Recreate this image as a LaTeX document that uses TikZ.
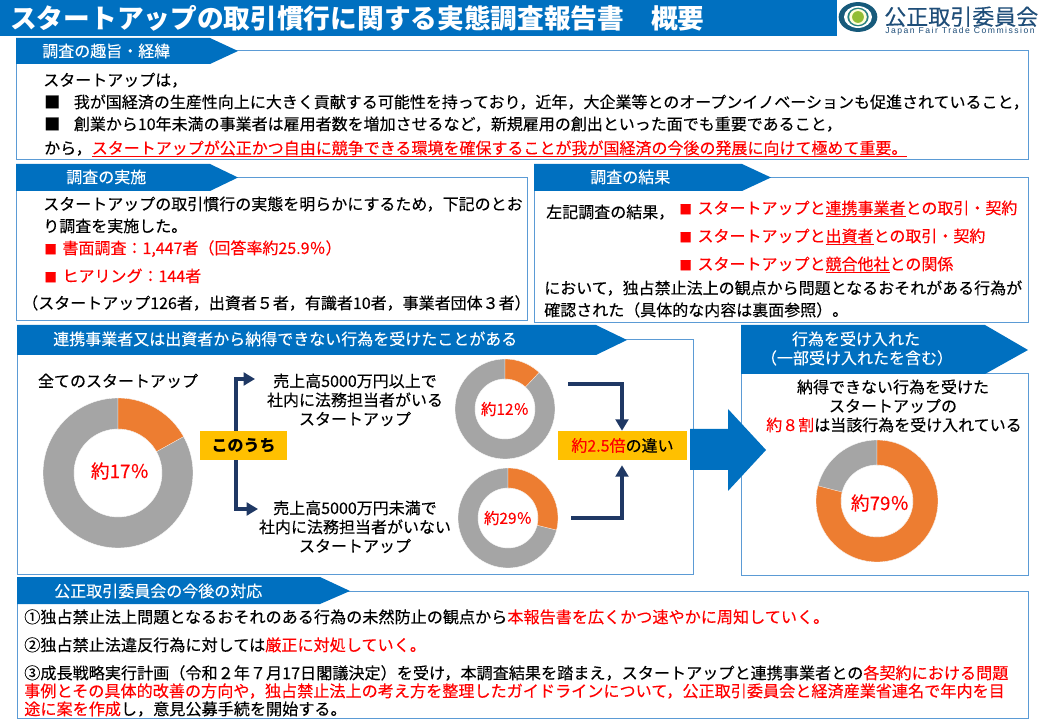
\documentclass[tikz,border=0pt]{standalone}
\usepackage{fontspec}
\setmainfont{Noto Sans CJK JP}[FakeBold=0.2,BoldFeatures={FakeBold=0}]
\newfontfamily\logofont{Liberation Sans}
\usetikzlibrary{arrows.meta}
\definecolor{hblue}{HTML}{0070C0}
\definecolor{bline}{HTML}{5B9BD5}
\definecolor{navy}{HTML}{1F3864}
\definecolor{dorange}{HTML}{ED7D31}
\definecolor{dgray}{HTML}{A5A5A5}
\definecolor{yel}{HTML}{FFC000}
\definecolor{logoblue}{HTML}{1F4E79}
\newcommand{\fsz}[1]{\fontsize{\dimexpr#1pt*3/4\relax}{\dimexpr#1pt*3/4\relax}\selectfont}
\newcommand{\R}[1]{\textcolor{red}{#1}}
\newcommand{\U}[1]{\underline{\smash{#1}}}
\newcommand{\sq}{{\fsz{12.5}■}\hspace{.36em}}
\newcommand{\ringseg}[7]{\fill[#1,draw=white,line width=.25pt] plot[domain=#6:#7,samples=120] ({#2+#4*sin(\x)},{#3-#4*cos(\x)}) -- plot[domain=#7:#6,samples=120] ({#2+#5*sin(\x)},{#3-#5*cos(\x)}) -- cycle;}
\newcommand{\donut}[5]{\ringseg{dgray}{#1}{#2}{#3}{#4}{0}{360}\ringseg{dorange}{#1}{#2}{#3}{#4}{0}{#5}}
\tikzset{
 x=0.75pt,y=-0.75pt,
 panel/.style={draw=bline,line width=.75pt,fill=white},
 head/.style={fill=hblue},
 htxt/.style={text=white,font=\fsz{16},inner sep=0pt,anchor=base west},
 body/.style={font=\fsz{16},inner sep=0pt,anchor=base west},
 lastbody/.style={font=\fsz{16.12},inner sep=0pt,anchor=base west},
 cbody/.style={font=\fsz{16},inner sep=0pt,anchor=base},
 ybox/.style={fill=yel,inner sep=0pt},
 link/.style={draw=navy,line width=3pt},
 tip/.style={-{Triangle[length=8.5pt,width=9.5pt]}},
}
\begin{document}
\begin{tikzpicture}
\useasboundingbox (0,0) rectangle (1040,720);
\fill[white] (0,0) rectangle (1040,720);
% title
\fill[hblue] (0,0) rectangle (837,36);
\node[inner sep=0pt,anchor=base west,text=white,font=\fsz{26.7}\bfseries] (title) at (10,29) {スタートアップの取引慣行に関する実態調査報告書　概要};
% logo
\fill[logoblue!75!teal] (858,17) ellipse[x radius=14.5pt,y radius=11.2pt];
\fill[white] (858,17) ellipse[x radius=10.5pt,y radius=8.2pt];
\fill[teal!70!gray] (858,17) ellipse[x radius=8pt,y radius=7pt];
\fill[white!85!yellow] (858,17) ellipse[x radius=6.6pt,y radius=6pt];
\fill[yellow!60!green!85!black] (858,17) circle[radius=4.4pt];
\node[inner sep=0pt,anchor=base west,text=logoblue,font=\fsz{22}] (logoj) at (884,25) {公正取引委員会};
\node[inner sep=0pt,anchor=base west,text=logoblue,font=\logofont\fsz{8.6}\addfontfeature{LetterSpace=17.5}] (logoe) at (885,33.5) {Japan Fair Trade Commission};
% panels
\draw[panel] (16,51) rectangle (1028,160);
\fill[head] (16,38) -- (210,38) -- (238,51) -- (210,64) -- (16,64) -- cycle;
\node[htxt] (h1) at (42,57) {調査の趣旨・経緯};
\node[body] (a1) at (43,86) {スタートアップは，};
\node[body] (a2) at (44,108) {■\hspace{.85em}我が国経済の生産性向上に大きく貢献する可能性を持っており，近年，大企業等とのオープンイノベーションも促進されていること，};
\node[body] (a3) at (44,130) {■\hspace{.85em}創業から10年未満の事業者は雇用者数を増加させるなど，新規雇用の創出といった面でも重要であること，};
\node[body] (a4) at (44,154) {から，\R{\U{スタートアップが公正かつ自由に競争できる環境を確保することが我が国経済の今後の発展に向けて極めて重要。}}};
\draw[panel] (16,178) rectangle (527,321);
\fill[head] (16,164) -- (210,164) -- (238,177.5) -- (210,191) -- (16,191) -- cycle;
\node[htxt] (h2) at (66,183) {調査の実施};
\node[body] (b1) at (43,210) {スタートアップの取引慣行の実態を明らかにするため，下記のとお};
\node[body] (b2) at (43,232) {り調査を実施した。};
\node[body] (b3) at (44,254) {\R{\sq 書面調査：1,447者（回答率約25.9％）}};
\node[body] (b4) at (44,282) {\R{\sq ヒアリング：144者}};
\node[body] (b5) at (22,309) {（スタートアップ126者，出資者５者，有識者10者，事業者団体３者）};
\draw[panel] (534,178) rectangle (1028,323);
\fill[head] (534,164) -- (742,164) -- (771,177.5) -- (742,191) -- (534,191) -- cycle;
\node[htxt] (h3) at (590,183) {調査の結果};
\node[body] (c0) at (546,218) {左記調査の結果，};
\node[body] (c1) at (679,214) {\R{\sq スタートアップと\U{連携事業者}との取引・契約}};
\node[body] (c2) at (679,242) {\R{\sq スタートアップと\U{出資者}との取引・契約}};
\node[body] (c3) at (679,270) {\R{\sq スタートアップと\U{競合他社}との関係}};
\node[body] (c4) at (544,294) {において，独占禁止法上の観点から問題となるおそれがある行為が};
\node[body] (c5) at (544,316) {確認された（具体的な内容は裏面参照）。};
% section 4
\draw[panel] (17,340) rectangle (693,574);
\fill[head] (17,325) -- (596,325) -- (627,340) -- (596,355) -- (17,355) -- cycle;
\node[htxt] (h4) at (53,345) {連携事業者又は出資者から納得できない行為を受けたことがある};
\node[cbody] (d0) at (118,387) {全てのスタートアップ};
\donut{118}{473}{75}{44}{61}
\node[inner sep=0pt,font=\fsz{18.7},text=red] (p1) at (120,471) {約17％};
\node[ybox,minimum width=65.25pt,minimum height=21.75pt,font=\fsz{16}\bfseries] (kono) at (243.5,445.5) {このうち};
\coordinate (u1) at (255,379);
\coordinate (u2) at (258,509);
\draw[link,tip] (kono.north -| 236,0) |- (u1);
\draw[link,tip] (kono.south -| 236,0) |- (u2);
\node[cbody] (e1) at (355,387) {売上高5000万円以上で};
\node[cbody] (e2) at (355,406) {社内に法務担当者がいる};
\node[cbody] (e3) at (355,425) {スタートアップ};
\node[cbody] (f1) at (355,514) {売上高5000万円未満で};
\node[cbody] (f2) at (355,533) {社内に法務担当者がいない};
\node[cbody] (f3) at (355,552) {スタートアップ};
\donut{505}{409}{50}{30}{43}
\node[inner sep=0pt,font=\fsz{15.4},text=red] (p2) at (505,409) {約12％};
\donut{508}{518}{50}{30}{104}
\node[inner sep=0pt,font=\fsz{15.4},text=red] (p3) at (508,518) {約29％};
\node[ybox,minimum width=96.75pt,minimum height=21.75pt,font=\fsz{16}] (diff) at (622.5,445.5) {\R{約2.5倍}の違い};
\coordinate (g1) at (568,384);
\coordinate (g2) at (571,518);
\draw[link,tip] (g1) -| (diff.north -| 622,0);
\draw[link,tip] (g2) -| ([yshift=-3.75pt]diff.south -| 622,0);
% section 5
\draw[panel] (741,374) rectangle (1028,575);
\fill[head] (741,325) -- (985,325) -- (1028,350) -- (985,374) -- (741,374) -- cycle;
\node[cbody,text=white] (i1) at (856,345) {行為を受け入れた};
\node[cbody,text=white] (i2) at (857,364) {（一部受け入れたを含む）};
\node[cbody] (j1) at (893,393) {納得できない行為を受けた};
\node[cbody] (j2) at (893,412) {スタートアップの};
\node[cbody] (j3) at (894,431) {\R{約８割}は当該行為を受け入れている};
\donut{877}{501}{61}{36}{284.4}
\node[inner sep=0pt,font=\fsz{18.7},text=red] (p4) at (880,503) {約79％};
% big arrow
\fill[hblue] (690,429) -- (728,429) -- (728,409) -- (766,450) -- (728,491) -- (728,470) -- (690,470) -- cycle;
% section 6
\draw[panel] (17,591) rectangle (1028,718);
\fill[head] (17,577) -- (320,577) -- (350,591) -- (320,604) -- (17,604) -- cycle;
\node[htxt] (h6) at (54,597) {公正取引委員会の今後の対応};
\node[lastbody] (k1) at (24,623) {①独占禁止法上問題となるおそれのある行為の未然防止の観点から\R{本報告書を広くかつ速やかに周知していく。}};
\node[lastbody] (k2) at (24,651) {②独占禁止法違反行為に対しては\R{厳正に対処していく。}};
\node[lastbody] (k3) at (24,679) {③成長戦略実行計画（令和２年７月17日閣議決定）を受け，本調査結果を踏まえ，スタートアップと連携事業者との\R{各契約における問題}};
\node[lastbody] (k4) at (24,697) {\R{事例とその具体的改善の方向や，独占禁止法上の考え方を整理したガイドラインについて，公正取引委員会と経済産業省連名で年内を目}};
\node[lastbody] (k5) at (24,715) {\R{途に案を作成}し，意見公募手続を開始する。};
\end{tikzpicture}
\end{document}
